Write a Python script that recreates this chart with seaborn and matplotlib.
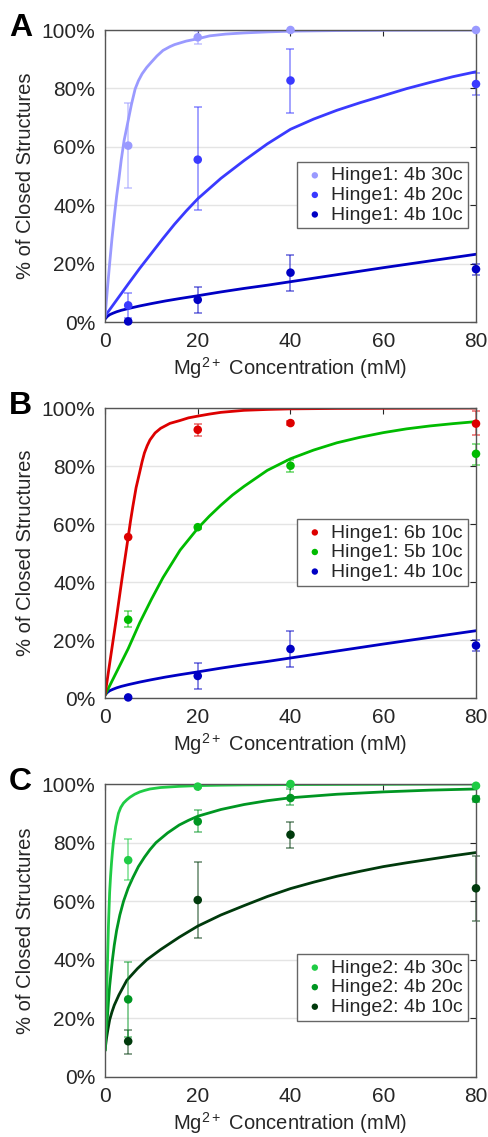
import numpy as np
import pandas as pd
import matplotlib
matplotlib.use("Agg")
import matplotlib.pyplot as plt
import seaborn as sns

# ---------------- data ----------------
conc = [5, 20, 40, 80]

# panel A: Hinge1 4b, 30c / 20c / 10c
a30_y = [60.4, 97.5, 100, 100]
a30_lo = [45.8, 95.2, 100, 100]
a30_hi = [75.0, 99.8, 100, 100]
a20_y = [5.7, 55.6, 82.7, 81.5]
a20_lo = [1.4, 38.4, 71.6, 77.7]
a20_hi = [10.0, 73.5, 93.5, 85.3]
a10_y = [0.2, 7.6, 16.9, 18.1]
a10_lo = [0.2, 3.2, 10.6, 16.2]
a10_hi = [0.2, 12.0, 23.1, 20.0]

# panel B: Hinge1 6b / 5b 10c (4b 10c = a10)
b6_y = [55.5, 92.5, 94.8, 94.6]
b6_lo = [55.5, 90.2, 94.0, 90.8]
b6_hi = [55.5, 94.5, 95.6, 98.8]
b5_y = [27.0, 58.9, 80.1, 84.2]
b5_lo = [24.4, 58.4, 77.8, 80.4]
b5_hi = [29.9, 59.4, 82.2, 87.6]

# panel C: Hinge2 4b, 30c / 20c / 10c
c30_y = [74.0, 99.1, 100, 99.4]
c30_lo = [67.3, 98.6, 99.0, 99.0]
c30_hi = [81.2, 99.6, 100, 99.8]
c20_y = [26.5, 87.2, 95.2, 94.9]
c20_lo = [13.8, 83.5, 92.7, 93.8]
c20_hi = [39.2, 91.0, 98.3, 96.0]
c10_y = [12.2, 60.4, 82.7, 64.4]
c10_lo = [8.0, 47.3, 78.3, 53.4]
c10_hi = [16.2, 73.5, 87.2, 75.4]

# fitted curves
fa30_x = [0, 0.5, 1, 1.5, 2, 2.5, 3, 3.5, 4.1, 5, 5.7, 6.5, 7.2, 8, 9, 10, 11.2, 12.5,
          14, 15, 17.5, 20, 22.6, 26, 30, 35, 40, 50, 60, 80]
fa30_y = [1.5, 11, 20, 28.5, 36, 43, 49, 55.5, 62, 69, 74.5, 79.8, 82.6, 85, 87.2, 89,
          91.1, 93, 94.3, 95, 96.2, 97, 98, 98.6, 99, 99.35, 99.6, 99.8, 99.9, 100]
fa20_x = [0, 2.5, 5, 7.5, 10, 12.5, 15, 17.5, 20, 25, 30, 35, 40, 45, 50, 55, 60, 65, 70, 75, 80]
fa20_y = [2, 7.5, 13, 18.4, 23.5, 28.6, 33.5, 38, 42.2, 49.2, 55.3, 61, 66, 69.5, 72.5,
          75.1, 77.5, 79.9, 82, 84, 85.7]
fa10_x = [0, 0.5, 1, 1.7, 2.5, 3.5, 5, 7.5, 10, 13, 16, 20, 25, 30, 35, 40, 50, 60, 70, 80]
fa10_y = [1, 1.9, 2.5, 3.0, 3.5, 4.0, 4.6, 5.5, 6.3, 7.2, 8, 9, 10.3, 11.5, 12.6, 13.8,
          16.2, 18.6, 20.9, 23.2]
fb6_x = [0, 1.2, 2.5, 3.7, 5, 5.5, 6, 6.7, 7.5, 8, 8.5, 9.1, 9.7, 10.8, 12, 14, 16.2, 18,
         20, 22.5, 25, 30, 35, 40, 50, 60, 80]
fb6_y = [1, 14, 28, 41.5, 55.5, 61, 66, 72.5, 78, 81.5, 84.5, 87, 89, 91.4, 93, 94.7,
         95.7, 96.6, 97.2, 97.9, 98.5, 99.2, 99.5, 99.7, 99.85, 99.9, 100]
fb5_x = [0, 2.5, 5, 7.5, 10, 12.5, 16.2, 20, 22.5, 25, 27.5, 30, 35, 40, 45, 50, 55, 60,
         65, 70, 75, 80]
fb5_y = [1, 9, 17, 26, 34, 41.5, 51, 58.5, 62.7, 66.5, 70, 73, 78.5, 82.5, 85.5, 88,
         89.9, 91.5, 92.8, 93.8, 94.6, 95.3]
fc30_x = [0, 0.25, 0.5, 0.75, 1, 1.2, 1.4, 1.6, 1.8, 2.3, 2.9, 3.4, 4, 4.7, 5.4, 6.4,
          7.5, 8.5, 9.7, 12, 16, 20, 25, 30, 40, 60, 80]
fc30_y = [9, 22, 37, 52, 63, 68.5, 73, 76.8, 80, 85.5, 90, 92, 93.5, 94.6, 95.5, 96.5,
          97.3, 97.8, 98.3, 98.8, 99.2, 99.45, 99.6, 99.7, 99.8, 99.9, 100]
fc20_x = [0, 0.25, 0.5, 0.75, 1, 1.3, 1.6, 2, 2.5, 3.2, 4, 5, 6, 7.2, 8.5, 9.7, 11, 13.5,
          16, 18, 20, 25, 30, 35, 40, 50, 60, 70, 80]
fc20_y = [9, 15, 20, 25.8, 31, 35.6, 40, 45, 50, 55.3, 60, 64.5, 68, 71.8, 75, 77.6, 80,
          83.3, 86, 87.6, 89, 91.3, 93, 94.3, 95.3, 96.5, 97.3, 97.9, 98.3]
fc10_x = [0, 0.3, 0.6, 1, 1.5, 2, 3, 4.7, 7, 9, 12, 16, 20, 25, 30, 35, 40, 45, 50, 55,
          60, 65, 70, 75, 80]
fc10_y = [9, 13, 16, 19.5, 22.2, 24.5, 28, 33, 37, 40, 43.5, 47.7, 51.5, 55.3, 58.5,
          61.6, 64.3, 66.5, 68.5, 70.2, 71.8, 73.1, 74.3, 75.5, 76.6]

# ---------------- style ----------------
sns.set_style("white")
plt.rcParams['font.family'] = ['Liberation Sans', 'DejaVu Sans']
plt.rcParams['mathtext.fontset'] = 'custom'
plt.rcParams['mathtext.rm'] = 'Liberation Sans'

fig = plt.figure(figsize=(4.89, 11.37), dpi=100)
W, H = 489, 1137
boxes = [(30, 322), (408, 698), (784, 1077)]  # top, bottom in px
left, right = 105, 476

panels = [
    ("A", [
        ("Hinge1: 4b 30c", "#9a9aff", a30_y, a30_lo, a30_hi, fa30_x, fa30_y),
        ("Hinge1: 4b 20c", "#3a3aff", a20_y, a20_lo, a20_hi, fa20_x, fa20_y),
        ("Hinge1: 4b 10c", "#0000c4", a10_y, a10_lo, a10_hi, fa10_x, fa10_y),
    ], 0.548),
    ("B", [
        ("Hinge1: 6b 10c", "#dd0000", b6_y, b6_lo, b6_hi, fb6_x, fb6_y),
        ("Hinge1: 5b 10c", "#00bb00", b5_y, b5_lo, b5_hi, fb5_x, fb5_y),
        ("Hinge1: 4b 10c", "#0000c4", a10_y, a10_lo, a10_hi, fa10_x, fa10_y),
    ], 0.617),
    ("C", [
        ("Hinge2: 4b 30c", "#1fcc45", c30_y, c30_lo, c30_hi, fc30_x, fc30_y),
        ("Hinge2: 4b 20c", "#009622", c20_y, c20_lo, c20_hi, fc20_x, fc20_y),
        ("Hinge2: 4b 10c", "#003a0c", c10_y, c10_lo, c10_hi, fc10_x, fc10_y),
    ], 0.419),
]

for (letter, series, leg_top), (top, bot) in zip(panels, boxes):
    ax = fig.add_axes([left / W, 1 - bot / H, (right - left) / W, (bot - top) / H])
    ax.yaxis.grid(True, color='#e4e4e4', lw=1)
    ax.set_axisbelow(True)
    # curves first, errorbars, then points
    for name, col, y, lo, hi, fx, fy in series[::-1]:
        sns.lineplot(x=fx, y=fy, ax=ax, color=col, lw=2.0, sort=True, estimator=None)
        yerr = [np.array(y) - np.array(lo), np.array(hi) - np.array(y)]
        ax.errorbar(conc, y, yerr=yerr, fmt='none', ecolor=col, alpha=0.55,
                    elinewidth=1.2, capsize=3, capthick=1.2, clip_on=False)
    for name, col, y, lo, hi, fx, fy in series:
        df = pd.DataFrame({"conc": conc, "pct": y})
        sns.scatterplot(data=df, x="conc", y="pct", ax=ax, color=col, s=38,
                        edgecolor='none', label=name, clip_on=False, zorder=5)
    ax.set_xlim(0, 80)
    ax.set_ylim(0, 100)
    ax.set_xticks([0, 20, 40, 60, 80])
    ax.set_yticks([0, 20, 40, 60, 80, 100])
    ax.set_yticklabels([f"{v}%" for v in [0, 20, 40, 60, 80, 100]])
    ax.tick_params(direction='in', length=4, width=0.8, top=True, right=True,
                   labelsize=15, colors='#262626', pad=7)
    for sp in ax.spines.values():
        sp.set_color('#555555')
        sp.set_linewidth(1.0)
    ax.set_xlabel("Mg$^{2+}$ Concentration (mM)", fontsize=14.5, color='#262626', labelpad=3)
    ax.set_ylabel("% of Closed Structures", fontsize=14.5, color='#262626', labelpad=5)
    leg = ax.legend(loc='upper right', bbox_to_anchor=(0.978, leg_top), fontsize=14,
                    frameon=True, fancybox=False, edgecolor='#666666', framealpha=1,
                    handletextpad=0.2, labelspacing=0.1, borderpad=0.25,
                    handlelength=1.3, markerscale=0.75, borderaxespad=0)
    leg.get_frame().set_linewidth(1.0)
    fig.text(9 / W, 1 - (top - 2) / H, letter, fontsize=23, fontweight='bold',
             ha='left', va='center', color='black')

fig.savefig("out.png", dpi=100)
